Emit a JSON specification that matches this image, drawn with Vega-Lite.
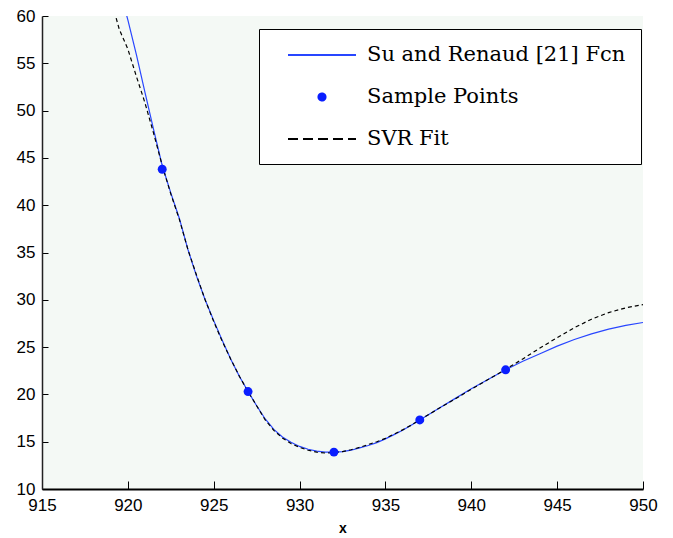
{
  "$schema": "https://vega.github.io/schema/vega-lite/v6.json",
  "width": 601,
  "height": 473,
  "autosize": "none",
  "padding": {"left": 42, "top": 16, "right": 30, "bottom": 49},
  "background": "white",
  "config": {
    "view": {"fill": "#f4f9f5", "stroke": null},
    "axis": {
      "labelFont": "Liberation Sans",
      "labelFontSize": 17,
      "labelColor": "black",
      "tickColor": "black",
      "domainColor": "black",
      "grid": false,
      "labelFlush": false,
      "labelOverlap": false,
      "labelBound": false
    }
  },
  "datasets": {
    "su": [
      {"x": 919.6, "y": 62.2}, {"x": 920, "y": 59.6}, {"x": 920.5, "y": 55.9}, {"x": 921, "y": 51.9},
      {"x": 921.5, "y": 48.0}, {"x": 922, "y": 44.2}, {"x": 922.5, "y": 41.3}, {"x": 923, "y": 38.6},
      {"x": 923.5, "y": 35.3}, {"x": 924, "y": 32.5}, {"x": 924.5, "y": 30.0}, {"x": 925, "y": 27.8},
      {"x": 925.5, "y": 25.7}, {"x": 926, "y": 23.7}, {"x": 926.5, "y": 21.9}, {"x": 927, "y": 20.3},
      {"x": 927.5, "y": 18.8}, {"x": 928, "y": 17.4}, {"x": 928.5, "y": 16.3}, {"x": 929, "y": 15.5},
      {"x": 929.5, "y": 14.95}, {"x": 930, "y": 14.5}, {"x": 930.5, "y": 14.2}, {"x": 931, "y": 14.0},
      {"x": 931.5, "y": 13.9}, {"x": 932, "y": 13.9}, {"x": 932.5, "y": 13.95}, {"x": 933, "y": 14.1},
      {"x": 933.5, "y": 14.35}, {"x": 934, "y": 14.6}, {"x": 934.5, "y": 14.9}, {"x": 935, "y": 15.3},
      {"x": 935.5, "y": 15.75}, {"x": 936, "y": 16.2}, {"x": 936.5, "y": 16.75}, {"x": 937, "y": 17.3},
      {"x": 938, "y": 18.4}, {"x": 939, "y": 19.5}, {"x": 940, "y": 20.6}, {"x": 941, "y": 21.6},
      {"x": 942, "y": 22.6}, {"x": 943, "y": 23.5}, {"x": 944, "y": 24.3}, {"x": 945, "y": 25.1},
      {"x": 946, "y": 25.8}, {"x": 947, "y": 26.4}, {"x": 948, "y": 26.9}, {"x": 949, "y": 27.3},
      {"x": 950, "y": 27.6}
    ],
    "svr": [
      {"x": 919.1, "y": 61.2}, {"x": 919.5, "y": 58.6}, {"x": 920, "y": 56.5}, {"x": 920.5, "y": 53.6},
      {"x": 921, "y": 50.8}, {"x": 921.5, "y": 47.6}, {"x": 922, "y": 44.2}, {"x": 922.5, "y": 41.2},
      {"x": 923, "y": 38.5}, {"x": 923.5, "y": 35.3}, {"x": 924, "y": 32.6}, {"x": 924.5, "y": 30.0},
      {"x": 925, "y": 27.7}, {"x": 925.5, "y": 25.6}, {"x": 926, "y": 23.7}, {"x": 926.5, "y": 21.9},
      {"x": 927, "y": 20.3}, {"x": 927.5, "y": 18.8}, {"x": 928, "y": 17.3}, {"x": 928.5, "y": 16.2},
      {"x": 929, "y": 15.4}, {"x": 929.5, "y": 14.8}, {"x": 930, "y": 14.4}, {"x": 930.5, "y": 14.1},
      {"x": 931, "y": 13.9}, {"x": 931.5, "y": 13.8}, {"x": 932, "y": 13.85}, {"x": 932.5, "y": 13.95},
      {"x": 933, "y": 14.15}, {"x": 933.5, "y": 14.4}, {"x": 934, "y": 14.7}, {"x": 934.5, "y": 15.0},
      {"x": 935, "y": 15.35}, {"x": 935.5, "y": 15.8}, {"x": 936, "y": 16.25}, {"x": 936.5, "y": 16.75},
      {"x": 937, "y": 17.3}, {"x": 938, "y": 18.4}, {"x": 939, "y": 19.45}, {"x": 940, "y": 20.55},
      {"x": 941, "y": 21.6}, {"x": 942, "y": 22.65}, {"x": 943, "y": 23.75}, {"x": 944, "y": 24.9},
      {"x": 945, "y": 26.0}, {"x": 946, "y": 27.05}, {"x": 947, "y": 27.95}, {"x": 948, "y": 28.65},
      {"x": 949, "y": 29.15}, {"x": 950, "y": 29.5}
    ],
    "pts": [
      {"x": 922, "y": 43.8}, {"x": 927, "y": 20.3}, {"x": 932, "y": 13.9},
      {"x": 937, "y": 17.3}, {"x": 942, "y": 22.6}
    ]
  },
  "layer": [
    {
      "data": {"name": "su"},
      "mark": {"type": "line", "strokeWidth": 1.2, "clip": true},
      "encoding": {
        "x": {
          "field": "x", "type": "quantitative",
          "scale": {"domain": [915, 950], "nice": false, "zero": false},
          "axis": {
            "values": [915, 920, 925, 930, 935, 940, 945, 950],
            "title": "x",
            "titleFont": "Liberation Sans",
            "titleFontSize": 14,
            "titleFontWeight": "bold",
            "titleColor": "black",
            "titlePadding": 8,
            "tickSize": -8,
            "labelPadding": 16,
            "domainWidth": 2
          }
        },
        "y": {
          "field": "y", "type": "quantitative",
          "scale": {"domain": [10, 60], "nice": false, "zero": false},
          "axis": {
            "values": [10, 15, 20, 25, 30, 35, 40, 45, 50, 55, 60],
            "title": null,
            "tickSize": -6,
            "labelPadding": 13,
            "domainWidth": 1.5,
            "domainColor": "#222222"
          }
        },
        "color": {
          "datum": "Su and Renaud [21] Fcn",
          "type": "nominal",
          "scale": {
            "domain": ["Su and Renaud [21] Fcn", "Sample Points", "SVR Fit"],
            "range": ["#2846ff", "#0a1eff", "#000000"]
          },
          "legend": {
            "title": null,
            "orient": "none",
            "legendX": 217,
            "legendY": 13,
            "strokeColor": "black",
            "fillColor": "white",
            "padding": 15,
            "rowPadding": 21,
            "labelFont": "DejaVu Serif",
            "labelFontSize": 21,
            "labelColor": "black",
            "labelLimit": 400,
            "symbolSize": 400,
            "symbolOffset": 37,
            "labelOffset": 34,
            "symbolStrokeWidth": 2,
            "encode": {
              "symbols": {
                "update": {
                  "shape": {"signal": "datum.value === 'Sample Points' ? 'circle' : 'M-3.4,0H3.4'"},
                  "size": {"signal": "datum.value === 'Sample Points' ? 50 : 400"},
                  "fill": {"signal": "datum.value === 'Sample Points' ? 'black' : 'transparent'"},
                  "stroke": {"signal": "datum.value === 'Sample Points' ? 'black' : '#8a8a8a'"},
                  "strokeDash": {"signal": "datum.value === 'SVR Fit' ? [10, 5] : [1, 0]"},
                  "strokeWidth": {"value": 2},
                  "opacity": {"value": 1}
                }
              }
            }
          }
        }
      }
    },
    {
      "data": {"name": "svr"},
      "mark": {"type": "line", "strokeWidth": 1.2, "strokeDash": [4, 3], "clip": true},
      "encoding": {
        "x": {"field": "x", "type": "quantitative"},
        "y": {"field": "y", "type": "quantitative"},
        "color": {"datum": "SVR Fit", "type": "nominal"}
      }
    },
    {
      "data": {"name": "pts"},
      "mark": {"type": "point", "filled": true, "size": 80, "opacity": 1, "clip": true},
      "encoding": {
        "x": {"field": "x", "type": "quantitative"},
        "y": {"field": "y", "type": "quantitative"},
        "color": {"datum": "Sample Points", "type": "nominal"}
      }
    }
  ]
}
